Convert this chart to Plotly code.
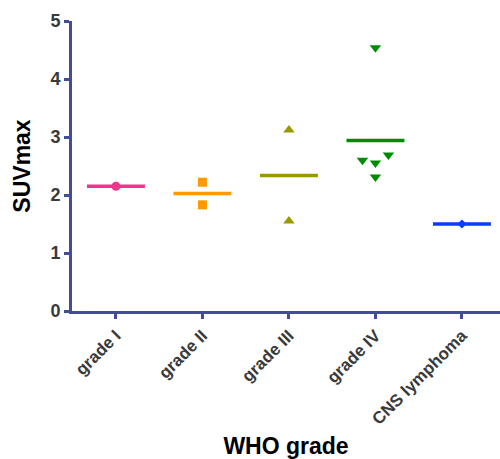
import plotly.graph_objects as go

categories = ["grade I", "grade II", "grade III", "grade IV", "CNS lymphoma"]
grade1 = [2.15]
grade2 = [2.22, 1.83]
grade3 = [3.12, 1.55]
grade4 = [4.54, 2.69, 2.60, 2.55, 2.31]
cns = [1.50]
series = [grade1, grade2, grade3, grade4, cns]
offsets = [[0.0], [0.0, 0.0], [0.0, 0.0], [0.0, 0.15, -0.15, 0.0, 0.0], [0.0]]
colors = ["#F0358C", "#FF9900", "#999900", "#008C00", "#0A3CFF"]
symbols = ["circle", "square", "triangle-up", "triangle-down", "diamond"]
msizes = [9, 9, 10, 10, 7]
yticks = [0, 1, 2, 3, 4, 5]

axis_col = "#434C96"
fam = "Liberation Sans, Arial, sans-serif"
fig = go.Figure()
half = 0.335
for i, (vals, offs) in enumerate(zip(series, offsets)):
    m = sum(vals) / len(vals)
    fig.add_trace(go.Scatter(x=[i - half, i + half], y=[m, m], mode="lines",
                             line=dict(color=colors[i], width=3.5), showlegend=False,
                             hoverinfo="skip"))
    fig.add_trace(go.Scatter(x=[i + o for o in offs], y=vals, mode="markers",
                             marker=dict(color=colors[i], symbol=symbols[i], size=msizes[i],
                                         line=dict(width=0)),
                             showlegend=False))

fig.update_layout(
    width=500, height=459,
    margin=dict(l=72, r=0, t=21, b=148),
    paper_bgcolor="white", plot_bgcolor="white",
    font=dict(family=fam),
    xaxis=dict(range=[-0.508, 4.44], tickmode="array", tickvals=list(range(len(categories))),
               ticktext=categories, tickangle=-45, showgrid=False, zeroline=False,
               showline=True, linecolor=axis_col, linewidth=3, automargin=False,
               ticks="outside", ticklen=5, tickwidth=3, tickcolor=axis_col,
               tickfont=dict(size=17, color="#3a3a3a", family=fam, weight="bold"),
               title=dict(text="WHO grade", font=dict(size=23, color="black", weight="bold"), standoff=16)),
    yaxis=dict(range=[0, 5], tickvals=yticks, showgrid=False, zeroline=False,
               showline=True, linecolor=axis_col, linewidth=3, automargin=False,
               ticks="outside", ticklen=5, tickwidth=3, tickcolor=axis_col,
               tickfont=dict(size=18, color="#3a3a3a", family=fam, weight="bold"),
               title=dict(text="SUVmax", font=dict(size=23, color="black", weight="bold"), standoff=14)),
)
fig.write_html("out.html")
